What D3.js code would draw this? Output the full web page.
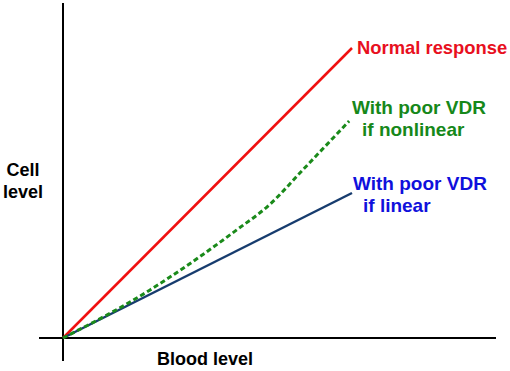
<!DOCTYPE html>
<html>
<head>
<meta charset="utf-8">
<script src="https://cdn.jsdelivr.net/npm/d3@7"></script>
<style>
  body { margin: 0; background: #fff; }
  text { font-family: "Liberation Sans", Arial, sans-serif; font-weight: bold; font-size: 18px; }
  text.series { font-size: 19px; }
  text.top { font-size: 18.4px; }
</style>
</head>
<body>
<svg class="chart"></svg>
<script>
var width = 510,
    height = 371;

// blood level (x) vs cell level (y), arbitrary units
var normalResponse = [[0, 0], [10, 10]];
var poorLinear = [[0, 0], [10, 5]];
var poorNonlinear = [[0, 0], [3, 1.65], [3.7, 2.1], [6, 3.72], [7.15, 4.6], [8.3, 5.8], [9.9, 7.48]];

var x = d3.scaleLinear().domain([0, 10]).range([63, 352]);
var y = d3.scaleLinear().domain([0, 10]).range([338, 48]);

var svg = d3.select(".chart")
    .attr("width", width)
    .attr("height", height);

// axes: plain crossing lines, no ticks
svg.append("line")
    .attr("x1", x(0)).attr("x2", x(0))
    .attr("y1", 3).attr("y2", 361)
    .attr("stroke", "#000").attr("stroke-width", 2);
svg.append("line")
    .attr("x1", 39).attr("x2", 496)
    .attr("y1", y(0)).attr("y2", y(0))
    .attr("stroke", "#000").attr("stroke-width", 2);

var line = d3.line()
    .x(d => x(d[0]))
    .y(d => y(d[1]));

svg.append("path")
    .datum(normalResponse)
    .attr("d", line)
    .attr("fill", "none")
    .attr("stroke", "#f01010")
    .attr("stroke-width", 2.5);

svg.append("path")
    .datum(poorLinear)
    .attr("d", line)
    .attr("fill", "none")
    .attr("stroke", "#173c6e")
    .attr("stroke-width", 2.5);

svg.append("path")
    .datum(poorNonlinear)
    .attr("d", line.curve(d3.curveMonotoneX))
    .attr("fill", "none")
    .attr("stroke", "#1a8a1a")
    .attr("stroke-width", 3)
    .attr("stroke-dasharray", "5,3");

function label(txt, lx, ly, color, anchor, cls) {
    svg.append("text")
        .attr("class", cls || null)
        .attr("x", lx).attr("y", ly)
        .attr("fill", color)
        .attr("text-anchor", anchor || "start")
        .text(txt);
}

label("Normal response", 357, 54, "#e8101e", "start", "top");
label("With poor VDR", 352, 114, "#16881a", "start", "series");
label("if nonlinear", 362, 136, "#16881a", "start", "series");
label("With poor VDR", 353, 190, "#1010dc", "start", "series");
label("if linear", 363, 212, "#1010dc", "start", "series");
label("Cell", 23, 176, "#000", "middle");
label("level", 23, 198, "#000", "middle");
label("Blood level", 157, 365, "#000");
</script>
</body>
</html>
